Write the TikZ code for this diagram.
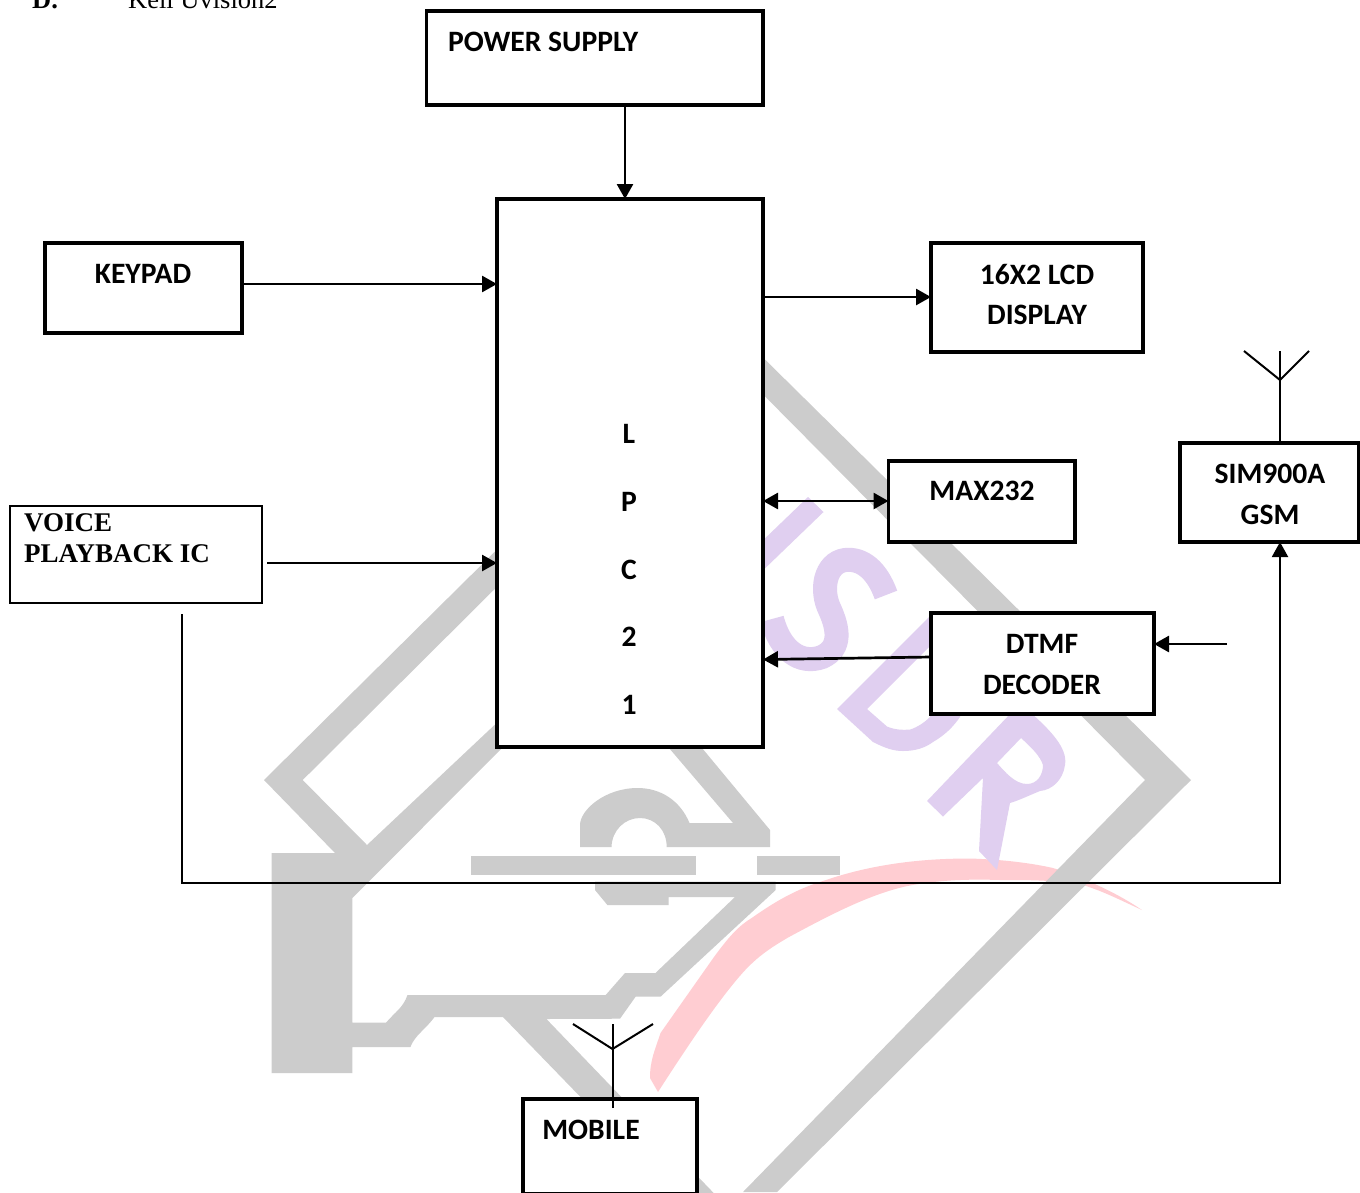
\documentclass[tikz,border=0pt]{standalone}
\usepackage{fontspec}
\setmainfont{Liberation Serif}
\newfontfamily\carfam{Carlito}
\usetikzlibrary{arrows.meta}
\definecolor{wmgray}{HTML}{CCCCCC}
\definecolor{wmpurple}{HTML}{E0CFF0}
\definecolor{wmpink}{HTML}{FFCDD2}
\tikzset{
 blockbox/.style={draw=black,line width=3.5pt,fill=white,inner sep=0pt,outer sep=0pt,rectangle},
 thinbox/.style={draw=black,line width=2pt,fill=white,inner sep=0pt,outer sep=0pt,rectangle},
 lab/.style={inner sep=0pt,font=\carfam\bfseries\fontsize{29.6}{32}\selectfont,text=black},
 serlab/.style={inner sep=0pt,font=\bfseries\fontsize{27}{31}\selectfont,text=black},
 arr/.style={line width=2.7pt,draw=black,-{Triangle[length=15pt,width=16pt]}},
 dblarr/.style={line width=2.7pt,draw=black,{Triangle[length=15pt,width=16pt]}-{Triangle[length=15pt,width=16pt]}},
 wire/.style={line width=2pt,draw=black},
 gr/.style={fill=wmgray,draw=none},
 pu/.style={draw=wmpurple,line width=24pt,fill=none},
}
\begin{document}
\begin{tikzpicture}[x=1pt,y=-1pt]
\useasboundingbox (0,0) rectangle (1360,1192);
\clip (0,0) rectangle (1360,1192);
\fill[white] (0,0) rectangle (1360,1192);
% pink swoosh
\fill[wmpink] (658,1092) -- (650,1078) .. controls (650,1060) and (655,1050) .. (660.5,1033)
 -- (714,957) .. controls (730,935) and (740,925) .. (751.7,918)
 .. controls (780,898) and (800,888) .. (826,880)
 .. controls (870,865) and (920,858) .. (973,858.6)
 .. controls (1010,860) and (1035,864) .. (1053,868)
 .. controls (1090,880) and (1120,895) .. (1142,910)
 .. controls (1120,900) and (1105,892) .. (1083,885)
 .. controls (1055,880) and (1030,880) .. (1000,880)
 .. controls (970,879) and (945,880) .. (923,883.5)
 .. controls (880,888) and (830,915) .. (789,937)
 .. controls (770,948) and (755,958) .. (739,977)
 .. controls (715,1005) and (685,1050) .. (658,1092) -- cycle;
% purple letters
\fill[wmpurple] (808,497) -- (823.5,512) -- (755,578) -- (755,548) -- cycle;
\draw[pu,line width=24pt] (886,595) .. controls (877,570) and (862,558) .. (845,560)
 .. controls (825,563) and (820,590) .. (830,610)
 .. controls (838,628) and (842,648) .. (822,657)
 .. controls (800,665) and (780,650) .. (772,619);
\fill[wmpurple] (934,612) -- (837,709) -- (873,742) .. controls (885,748) and (893,751) .. (903,751)
 .. controls (915,751) and (925,748) .. (933,742) .. controls (945,735) and (953,727) .. (960,717) -- (960,700)
 -- (935,700) -- (930,717) .. controls (925,722) and (918,727) .. (910,729.6)
 .. controls (903,730) and (895,730) .. (887,726.5) -- (867,709) -- (940,636) -- cycle;
\fill[wmpurple,even odd rule] (927,801) -- (1012,712) -- (1030,712) .. controls (1050,730) and (1068,748) .. (1065,765)
 .. controls (1063,780) and (1052,790) .. (1040,791) .. controls (1030,795) and (1020,800) .. (1010,803)
 -- (997,870) -- (979,851) -- (983,778) -- (943,816.5) -- cycle
 (1021,738) .. controls (1032,748) and (1040,756) .. (1043,765) .. controls (1043,775) and (1037,784) .. (1027,784)
 .. controls (1015,784) and (1005,772) .. (997,763) -- cycle;
% gray emblem: right chevron
\fill[gr] (727,322) -- (1191,780) -- (777,1192) -- (743,1192) -- (1145,780) -- (727,358) -- cycle;
% left chevron with block and lower outline
\fill[gr] (727,322) -- (264,780) -- (335,853) -- (271.6,853) -- (271.6,1073) -- (352.4,1073) -- (352.4,1047)
 -- (410.4,1047) .. controls (415,1035) and (425,1030) .. (434.5,1017)
 -- (503,1017) -- (690,1210) -- (730,1210) -- (546.4,1019) -- (620,1018.7) -- (635.6,996.7) -- (660.5,996.7)
 -- (775.7,890) -- (775.7,881.7) -- (595,881.7) -- (595,890) -- (607.4,905) -- (668.7,905) -- (668.7,897) -- (735,897)
 -- (655.5,973) -- (625,973) -- (605.7,995) -- (407.5,995) .. controls (403,1008) and (395,1012) .. (386,1022.7)
 -- (352.4,1022.7) -- (352.4,898) -- (520,730) -- (520,701) -- (367,845) -- (302.7,780) -- (727,358) -- cycle;
% hat
\fill[gr] (669,748) -- (733,823) -- (689.5,823) .. controls (680,800) and (660,788) .. (637.6,788)
 .. controls (605,788) and (580,810) .. (580,825) -- (580,847) -- (611.5,847) .. controls (612,830) and (625,818) .. (640,818)
 .. controls (655,818) and (666.7,830) .. (666.7,847) -- (770,847) -- (770,830) -- (702,748) -- (690,730) -- (655,730) -- cycle;
\fill[gr] (470.6,855.7) rectangle (695.7,874.7);
\fill[gr] (756.6,855.7) rectangle (839.6,874.7);
% top stray text
\node[inner sep=0pt,anchor=base west,font=\bfseries\fontsize{26.5}{31}\selectfont] (dl) at (32,8) {D.};
\node[inner sep=0pt,anchor=base west,font=\fontsize{26.5}{31}\selectfont] (kl) at (128,8) {Keil Uvision2};
% blocks
\node[blockbox,minimum width=336.5pt,minimum height=94pt] (power) at (594.75,58) {};
\node[blockbox,minimum width=266pt,minimum height=548pt] (lpc) at (630,473) {};
\node[blockbox,minimum width=197pt,minimum height=90pt] (keypad) at (143.5,288) {};
\node[blockbox,minimum width=212pt,minimum height=109pt] (lcd) at (1037,297.5) {};
\node[blockbox,minimum width=186.5pt,minimum height=81pt] (max) at (981.75,501.5) {};
\node[blockbox,minimum width=179pt,minimum height=99pt] (gsm) at (1269.5,492.5) {};
\node[blockbox,minimum width=223pt,minimum height=101pt] (dtmf) at (1042.5,663.5) {};
\node[thinbox,minimum width=252pt,minimum height=97pt] (voice) at (136,554.5) {};
\node[blockbox,minimum width=174.2pt,minimum height=94.5pt] (mobile) at (610,1146.25) {};
% labels
\node[lab,anchor=base west] (tp) at (448,51) {POWER SUPPLY};
\node[lab] (tk) at (143,274) {KEYPAD};
\node[lab] (tl1) at (1037,274) {16X2 LCD};
\node[lab] (tl2) at (1037,315) {DISPLAY};
\node[lab] (tm) at (982,491) {MAX232};
\node[lab] (tg1) at (1270,474) {SIM900A};
\node[lab] (tg2) at (1270,515) {GSM};
\node[lab] (td1) at (1042,644) {DTMF};
\node[lab] (td2) at (1042,685) {DECODER};
\node[lab] (tmb) at (591,1130) {MOBILE};
\node[lab] (l1) at (629,434) {L};
\node[lab] (l2) at (629,502) {P};
\node[lab] (l3) at (629,570) {C};
\node[lab] (l4) at (629,637) {2};
\node[lab] (l5) at (629,705) {1};
\node[serlab,anchor=base west] (tv1) at (24,531) {VOICE};
\node[serlab,anchor=base west] (tv2) at (24,562) {PLAYBACK IC};
% connector reference points
\coordinate (cpw) at (625,0);
\coordinate (ck) at (0,284);
\coordinate (cl) at (0,297);
\coordinate (cm) at (0,501);
\coordinate (cvo) at (267,563);
\coordinate (cvd) at (182,614);
\coordinate (cvb) at (182,883);
\coordinate (cgb) at (1280,883);
\coordinate (cdt) at (1227,644);
\coordinate (cdl) at (0,657);
\coordinate (cdr) at (0,659.5);
\coordinate (cant) at (1280,380);
\coordinate (ca1) at (1244,351);
\coordinate (ca2) at (1309,351);
\coordinate (ca3) at (1280,351);
\coordinate (cmt) at (612.5,1108);
\coordinate (cmc) at (612.5,1049);
\coordinate (cmu) at (612.5,1024);
\coordinate (cm1) at (573,1024);
\coordinate (cm2) at (653,1024);
% connectors
\draw[arr] (cpw |- power.south) -- (cpw |- lpc.north);
\draw[arr] (keypad.east |- ck) -- (lpc.west |- ck);
\draw[arr] (lpc.east |- cl) -- (lcd.west |- cl);
\draw[dblarr] (lpc.east |- cm) -- (max.west |- cm);
\draw[arr] (cvo) -- (lpc.west |- cvo);
\draw[arr] (dtmf.west |- cdl) -- (lpc.east |- cdr);
\draw[arr] (cdt) -- (dtmf.east |- cdt);
\draw[wire,-{Triangle[length=15pt,width=16pt]}] (cvd) -- (cvb) -- (cgb) -- (cgb |- gsm.south);
\draw[wire] (cgb |- gsm.north) -- (ca3);
\draw[wire] (ca1) -- (cant) -- (ca2);
\draw[wire] (cmt) -- (cmu);
\draw[wire] (cm1) -- (cmc) -- (cm2);
\end{tikzpicture}
\end{document}
